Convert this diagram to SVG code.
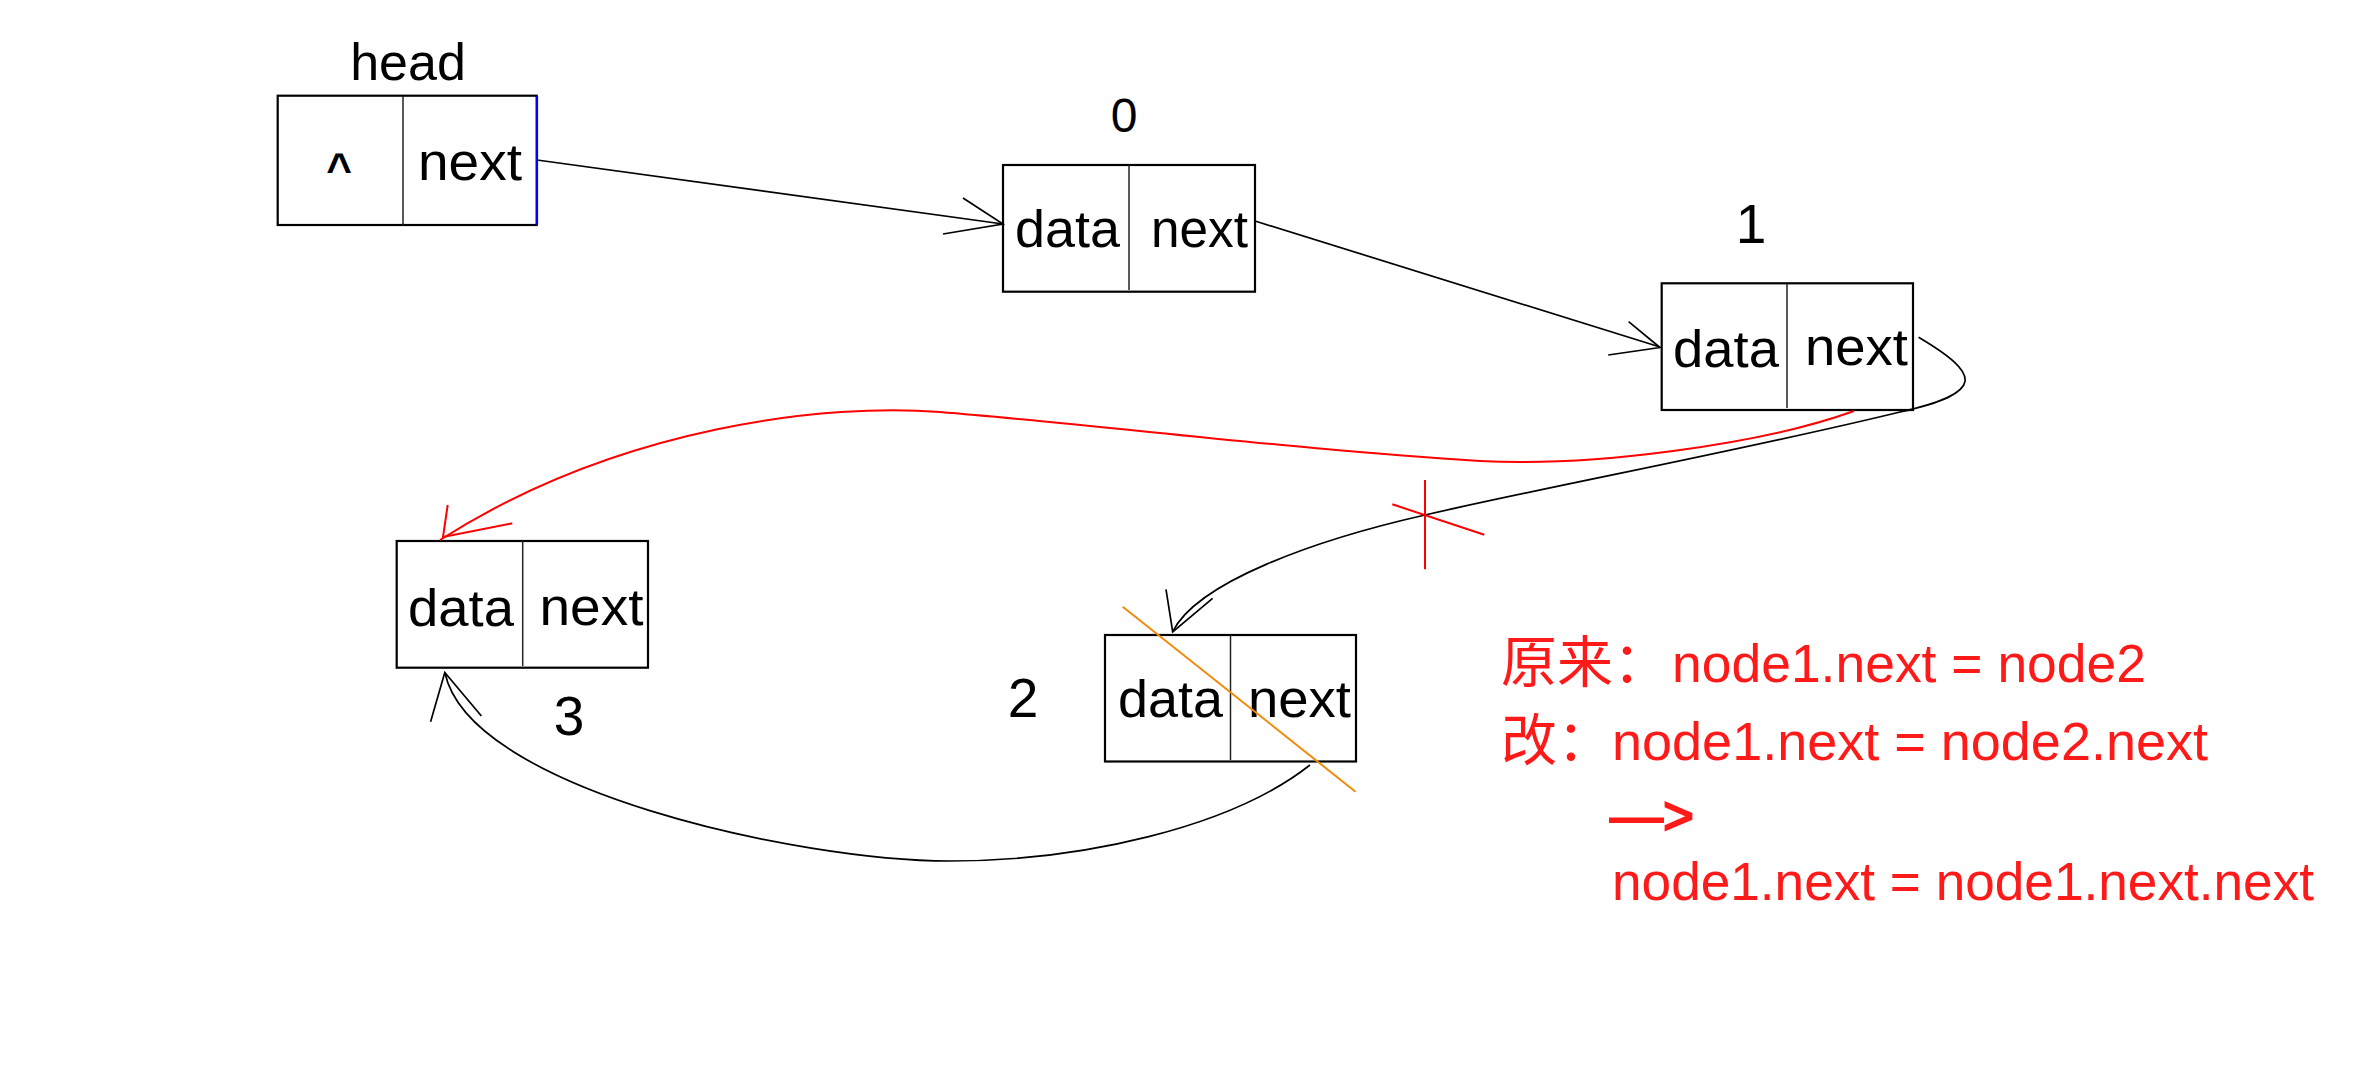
<svg xmlns="http://www.w3.org/2000/svg" width="2377" height="1069" viewBox="0 0 2377 1069">
<style>
.box{fill:#fff;stroke:#000;stroke-width:2.2}
.dv{stroke:#222;stroke-width:1.5}
.t{font-family:"Liberation Sans",Arial,sans-serif;font-size:51px;fill:#000}
.lbl{font-family:"Liberation Sans",Arial,sans-serif;font-size:55px;fill:#000;text-anchor:middle}
.conn{fill:none;stroke:#000;stroke-width:1.7}
.red{fill:none;stroke:#ff0000;stroke-width:2}
.org{fill:none;stroke:#f28a0c;stroke-width:2}
.note{font-family:"Liberation Sans",Arial,sans-serif;font-size:53px;fill:#ff1a1a}
.cjk{font-family:"Noto Sans CJK SC",sans-serif;font-size:56px;fill:#ff1a1a}
</style>
<rect width="2377" height="1069" fill="#fff"/>

<g id="head">
  <text class="lbl" x="408" y="80" style="font-size:52px">head</text>
  <rect class="box" x="277.7" y="95.7" width="259" height="129.3"/>
  <line class="dv" x1="403" y1="96" x2="403" y2="225"/>
  <line x1="537" y1="96" x2="537" y2="225" stroke="#0000ff" stroke-width="2.2"/>
  <text class="t" x="339" y="184" text-anchor="middle" style="font-size:44px;font-weight:bold">^</text>
  <text class="t" x="418" y="180" textLength="104" lengthAdjust="spacingAndGlyphs">next</text>
</g>

<g id="node0">
  <text class="lbl" x="1124" y="131.7" style="font-size:48px">0</text>
  <rect class="box" x="1003" y="165" width="252" height="126.7"/>
  <line class="dv" x1="1129" y1="165" x2="1129" y2="290"/>
  <text class="t" x="1015" y="247" textLength="105" lengthAdjust="spacingAndGlyphs">data</text>
  <text class="t" x="1151" y="247" textLength="97" lengthAdjust="spacingAndGlyphs">next</text>
</g>

<g id="node1">
  <text class="lbl" x="1751" y="243">1</text>
  <rect class="box" x="1661.7" y="283.3" width="251.3" height="126.7"/>
  <line class="dv" x1="1787" y1="284" x2="1787" y2="408"/>
  <text class="t" x="1673" y="366.7" textLength="106" lengthAdjust="spacingAndGlyphs">data</text>
  <text class="t" x="1805" y="365" textLength="103" lengthAdjust="spacingAndGlyphs">next</text>
</g>

<g id="node3">
  <rect class="box" x="396.7" y="541" width="251.3" height="126.7"/>
  <line class="dv" x1="522.7" y1="541" x2="522.7" y2="666"/>
  <text class="t" x="408" y="625.7" textLength="106" lengthAdjust="spacingAndGlyphs">data</text>
  <text class="t" x="539.5" y="625" textLength="104" lengthAdjust="spacingAndGlyphs">next</text>
  <text class="lbl" x="569" y="735">3</text>
</g>

<g id="node2">
  <text class="lbl" x="1023" y="716.7">2</text>
  <rect class="box" x="1105" y="635" width="251" height="126.5"/>
  <line class="dv" x1="1230.5" y1="635" x2="1230.5" y2="760"/>
  <text class="t" x="1118" y="717.3" textLength="105" lengthAdjust="spacingAndGlyphs">data</text>
  <text class="t" x="1248" y="716.7" textLength="103" lengthAdjust="spacingAndGlyphs">next</text>
</g>

<g id="connectors">
  <!-- head -> node0 -->
  <path class="conn" d="M537,160 L1003,224"/>
  <path class="conn" d="M963,198 L1003,224 L943,234"/>
  <!-- node0 -> node1 -->
  <path class="conn" d="M1255,221 L1660,347"/>
  <path class="conn" d="M1628.6,321.7 L1660,347.5 L1608.2,355"/>
  <!-- node1 -> node2 (old link) -->
  <path class="conn" d="M1918.6,337.3 C1982,375 1985,393 1900,412 C1740,451 1560,484 1425,515 C1315,540 1197,582 1172.5,632"/>
  <path class="conn" d="M1166,589.3 L1172.7,632 L1212.6,598.3"/>
  <!-- node2 -> node3 -->
  <path class="conn" d="M1310,765 C1230,828 1080,861 950,861 C800,861 470,790 445,673"/>
  <path class="conn" d="M430.6,721.7 L444.8,672.5 L481.4,716"/>
  <!-- node1 -> node3 (new link, red) -->
  <path class="red" d="M1854,411 C1760,445 1590,467 1480,461 C1300,450 1100,425 940,412 C830,403 620,425 440,540"/>
  <path class="red" d="M447.7,505 L443,537 L512.3,523.3"/>
  <!-- red cross on old link -->
  <line class="red" x1="1425" y1="480" x2="1425" y2="569.3"/>
  <line class="red" x1="1392.3" y1="504.3" x2="1484.3" y2="534.7"/>
  <!-- orange strike over node2 -->
  <line class="org" x1="1122.7" y1="606.7" x2="1355.5" y2="791.7"/>
</g>

<g id="note">
  <text class="cjk" x="1501" y="681.7">原来：</text>
  <text class="note" x="1672" y="681.7" textLength="474" lengthAdjust="spacingAndGlyphs">node1.next = node2</text>
  <text class="cjk" x="1501" y="760">改：</text>
  <text class="note" x="1612" y="760" textLength="596" lengthAdjust="spacingAndGlyphs">node1.next = node2.next</text>
  <text class="note" x="1610" y="834" stroke="#ff1a1a" stroke-width="2">—&gt;</text>
  <text class="note" x="1612" y="900" textLength="702" lengthAdjust="spacingAndGlyphs">node1.next = node1.next.next</text>
</g>
</svg>
